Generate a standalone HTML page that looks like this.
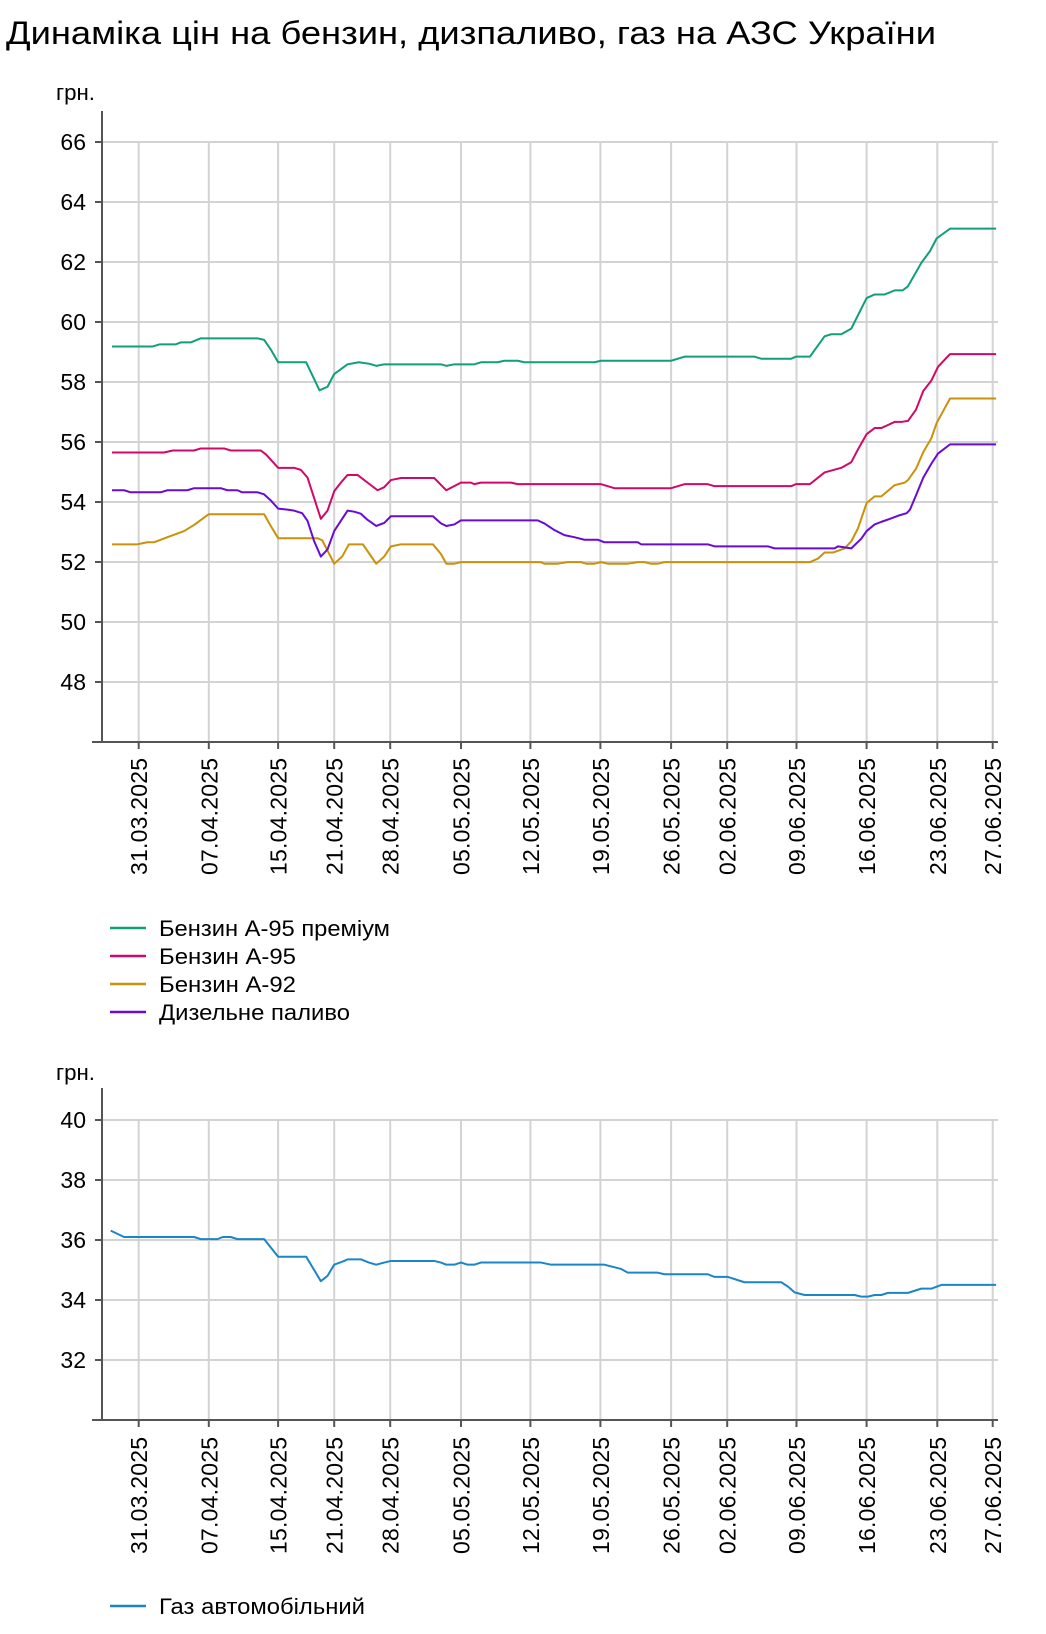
<!DOCTYPE html>
<html><head><meta charset="utf-8"><style>
html,body{margin:0;padding:0;background:#fff}
svg{display:block}
text{font-family:"Liberation Sans",Arial,sans-serif;fill:#000}
</style></head><body>
<svg width="1046" height="1634" viewBox="0 0 1046 1634" xmlns="http://www.w3.org/2000/svg">
<text x="6" y="44" font-size="32" textLength="930" lengthAdjust="spacingAndGlyphs">Динаміка цін на бензин, дизпаливо, газ на АЗС України</text>

<!-- TOP CHART -->
<text x="56" y="100" font-size="22" textLength="39" lengthAdjust="spacingAndGlyphs">грн.</text>
<g stroke="#d3d3d3" stroke-width="2">
<line x1="102" y1="142" x2="998" y2="142"/><line x1="102" y1="202" x2="998" y2="202"/><line x1="102" y1="262" x2="998" y2="262"/><line x1="102" y1="322" x2="998" y2="322"/><line x1="102" y1="382" x2="998" y2="382"/><line x1="102" y1="442" x2="998" y2="442"/><line x1="102" y1="502" x2="998" y2="502"/><line x1="102" y1="562" x2="998" y2="562"/><line x1="102" y1="622" x2="998" y2="622"/><line x1="102" y1="682" x2="998" y2="682"/>
<line x1="138.7" y1="142" x2="138.7" y2="742"/><line x1="208.8" y1="142" x2="208.8" y2="742"/><line x1="278.1" y1="142" x2="278.1" y2="742"/><line x1="334.2" y1="142" x2="334.2" y2="742"/><line x1="390.2" y1="142" x2="390.2" y2="742"/><line x1="461" y1="142" x2="461" y2="742"/><line x1="530.4" y1="142" x2="530.4" y2="742"/><line x1="600.4" y1="142" x2="600.4" y2="742"/><line x1="671.1" y1="142" x2="671.1" y2="742"/><line x1="727.2" y1="142" x2="727.2" y2="742"/><line x1="796.5" y1="142" x2="796.5" y2="742"/><line x1="866.6" y1="142" x2="866.6" y2="742"/><line x1="937.3" y1="142" x2="937.3" y2="742"/><line x1="992.7" y1="142" x2="992.7" y2="742"/>
</g>
<g stroke="#555" stroke-width="2">
<line x1="102" y1="111" x2="102" y2="743"/><line x1="92" y1="742" x2="998" y2="742"/>
<line x1="95" y1="142" x2="102" y2="142"/><line x1="95" y1="202" x2="102" y2="202"/><line x1="95" y1="262" x2="102" y2="262"/><line x1="95" y1="322" x2="102" y2="322"/><line x1="95" y1="382" x2="102" y2="382"/><line x1="95" y1="442" x2="102" y2="442"/><line x1="95" y1="502" x2="102" y2="502"/><line x1="95" y1="562" x2="102" y2="562"/><line x1="95" y1="622" x2="102" y2="622"/><line x1="95" y1="682" x2="102" y2="682"/>
<line x1="138.7" y1="742" x2="138.7" y2="749"/><line x1="208.8" y1="742" x2="208.8" y2="749"/><line x1="278.1" y1="742" x2="278.1" y2="749"/><line x1="334.2" y1="742" x2="334.2" y2="749"/><line x1="390.2" y1="742" x2="390.2" y2="749"/><line x1="461" y1="742" x2="461" y2="749"/><line x1="530.4" y1="742" x2="530.4" y2="749"/><line x1="600.4" y1="742" x2="600.4" y2="749"/><line x1="671.1" y1="742" x2="671.1" y2="749"/><line x1="727.2" y1="742" x2="727.2" y2="749"/><line x1="796.5" y1="742" x2="796.5" y2="749"/><line x1="866.6" y1="742" x2="866.6" y2="749"/><line x1="937.3" y1="742" x2="937.3" y2="749"/><line x1="992.7" y1="742" x2="992.7" y2="749"/>
</g>
<g font-size="23" text-anchor="end">
<text x="86" y="150">66</text><text x="86" y="210">64</text><text x="86" y="270">62</text><text x="86" y="330">60</text><text x="86" y="390">58</text><text x="86" y="450">56</text><text x="86" y="510">54</text><text x="86" y="570">52</text><text x="86" y="630">50</text><text x="86" y="690">48</text>
</g>
<g font-size="23" text-anchor="end">
<text transform="translate(147.2,758) rotate(-90)" textLength="117">31.03.2025</text>
<text transform="translate(217.3,758) rotate(-90)" textLength="117">07.04.2025</text>
<text transform="translate(286.6,758) rotate(-90)" textLength="117">15.04.2025</text>
<text transform="translate(342.7,758) rotate(-90)" textLength="117">21.04.2025</text>
<text transform="translate(398.7,758) rotate(-90)" textLength="117">28.04.2025</text>
<text transform="translate(469.5,758) rotate(-90)" textLength="117">05.05.2025</text>
<text transform="translate(538.9,758) rotate(-90)" textLength="117">12.05.2025</text>
<text transform="translate(608.9,758) rotate(-90)" textLength="117">19.05.2025</text>
<text transform="translate(679.6,758) rotate(-90)" textLength="117">26.05.2025</text>
<text transform="translate(735.7,758) rotate(-90)" textLength="117">02.06.2025</text>
<text transform="translate(805,758) rotate(-90)" textLength="117">09.06.2025</text>
<text transform="translate(875.1,758) rotate(-90)" textLength="117">16.06.2025</text>
<text transform="translate(945.8,758) rotate(-90)" textLength="117">23.06.2025</text>
<text transform="translate(1001.2,758) rotate(-90)" textLength="117">27.06.2025</text>
</g>
<g transform="matrix(0.6672 0 0 0.5099 0.59 0.76)" fill="none" stroke-width="2" stroke-linejoin="round">
<polyline vector-effect="non-scaling-stroke" stroke="#119e7b" points="167,678 228,678 238,674 262,674 270,670 285,670 300,662 385,662 395,665 405,684 416,709 458,709 478,764 490,757 500,732 520,713 537,709 553,712 563,716 575,713 660,713 668,716 680,713 710,713 720,709 745,709 755,706 775,706 785,709 890,709 900,706 1005,706 1025,698 1130,698 1140,702 1185,702 1192,698 1213,698 1235,658 1245,654 1260,654 1275,643 1298,583 1310,576 1325,576 1340,568 1352,568 1360,560 1380,514 1393,491 1403,466 1423,447 1492,447"/>
<polyline vector-effect="non-scaling-stroke" stroke="#d0086a" points="167,886 245,886 258,882 290,882 300,878 335,878 345,882 390,882 398,890 416,916 440,916 450,920 460,935 480,1016 490,1000 500,962 510,945 520,930 535,930 550,945 565,960 575,954 585,940 600,936 650,936 668,960 690,945 705,945 710,948 720,945 765,945 775,948 900,948 920,956 1005,956 1025,948 1060,948 1070,952 1185,952 1192,948 1213,948 1235,925 1260,916 1275,905 1285,880 1298,850 1310,838 1320,838 1340,826 1350,826 1360,824 1372,802 1383,765 1395,745 1405,718 1423,693 1492,693"/>
<polyline vector-effect="non-scaling-stroke" stroke="#c9920a" points="167,1066 205,1066 220,1062 230,1062 250,1052 275,1040 290,1028 312,1007 395,1007 405,1030 416,1054 475,1054 482,1058 500,1104 512,1090 522,1066 543,1066 553,1085 563,1104 575,1090 585,1070 600,1066 648,1066 660,1085 668,1104 680,1104 690,1101 810,1101 815,1104 835,1104 850,1101 870,1101 878,1104 890,1104 900,1101 910,1104 940,1104 955,1101 965,1101 975,1104 985,1104 995,1101 1213,1101 1225,1094 1235,1082 1248,1082 1265,1074 1275,1060 1285,1035 1298,985 1310,972 1320,972 1340,950 1355,945 1360,940 1372,918 1383,885 1395,858 1403,828 1423,780 1492,780"/>
<polyline vector-effect="non-scaling-stroke" stroke="#6a0ad6" points="167,960 185,960 195,964 240,964 250,960 280,960 290,956 330,956 340,960 355,960 362,964 385,964 395,968 405,980 416,996 430,998 440,1000 452,1005 460,1020 470,1060 480,1090 490,1076 500,1040 510,1020 520,1000 530,1002 540,1006 550,1018 563,1030 575,1024 585,1011 648,1011 660,1025 668,1030 680,1027 690,1019 805,1019 815,1025 830,1038 845,1048 860,1052 875,1057 895,1057 905,1062 955,1062 960,1066 1060,1066 1070,1070 1150,1070 1160,1074 1250,1074 1255,1070 1265,1072 1275,1074 1290,1055 1298,1040 1310,1027 1320,1022 1335,1015 1345,1010 1358,1005 1363,998 1372,970 1383,935 1395,908 1405,888 1423,870 1492,870"/>
</g>

<!-- top legend -->
<g stroke-width="2.5">
<line x1="110" y1="928" x2="146" y2="928" stroke="#119e7b"/>
<line x1="110" y1="956" x2="146" y2="956" stroke="#d0086a"/>
<line x1="110" y1="984" x2="146" y2="984" stroke="#c9920a"/>
<line x1="110" y1="1012" x2="146" y2="1012" stroke="#6a0ad6"/>
</g>
<g font-size="22">
<text x="159" y="936" textLength="231" lengthAdjust="spacingAndGlyphs">Бензин А-95 преміум</text>
<text x="159" y="964" textLength="137" lengthAdjust="spacingAndGlyphs">Бензин А-95</text>
<text x="159" y="992" textLength="137" lengthAdjust="spacingAndGlyphs">Бензин А-92</text>
<text x="159" y="1020" textLength="191" lengthAdjust="spacingAndGlyphs">Дизельне паливо</text>
</g>

<!-- BOTTOM CHART -->
<text x="56" y="1080" font-size="22" textLength="39" lengthAdjust="spacingAndGlyphs">грн.</text>
<g stroke="#d3d3d3" stroke-width="2">
<line x1="102" y1="1120" x2="998" y2="1120"/><line x1="102" y1="1180" x2="998" y2="1180"/><line x1="102" y1="1240" x2="998" y2="1240"/><line x1="102" y1="1300" x2="998" y2="1300"/><line x1="102" y1="1360" x2="998" y2="1360"/>
<line x1="138.7" y1="1120" x2="138.7" y2="1420"/><line x1="208.8" y1="1120" x2="208.8" y2="1420"/><line x1="278.1" y1="1120" x2="278.1" y2="1420"/><line x1="334.2" y1="1120" x2="334.2" y2="1420"/><line x1="390.2" y1="1120" x2="390.2" y2="1420"/><line x1="461" y1="1120" x2="461" y2="1420"/><line x1="530.4" y1="1120" x2="530.4" y2="1420"/><line x1="600.4" y1="1120" x2="600.4" y2="1420"/><line x1="671.1" y1="1120" x2="671.1" y2="1420"/><line x1="727.2" y1="1120" x2="727.2" y2="1420"/><line x1="796.5" y1="1120" x2="796.5" y2="1420"/><line x1="866.6" y1="1120" x2="866.6" y2="1420"/><line x1="937.3" y1="1120" x2="937.3" y2="1420"/><line x1="992.7" y1="1120" x2="992.7" y2="1420"/>
</g>
<g stroke="#555" stroke-width="2">
<line x1="102" y1="1088" x2="102" y2="1421"/><line x1="92" y1="1420" x2="998" y2="1420"/>
<line x1="95" y1="1120" x2="102" y2="1120"/><line x1="95" y1="1180" x2="102" y2="1180"/><line x1="95" y1="1240" x2="102" y2="1240"/><line x1="95" y1="1300" x2="102" y2="1300"/><line x1="95" y1="1360" x2="102" y2="1360"/>
<line x1="138.7" y1="1420" x2="138.7" y2="1427"/><line x1="208.8" y1="1420" x2="208.8" y2="1427"/><line x1="278.1" y1="1420" x2="278.1" y2="1427"/><line x1="334.2" y1="1420" x2="334.2" y2="1427"/><line x1="390.2" y1="1420" x2="390.2" y2="1427"/><line x1="461" y1="1420" x2="461" y2="1427"/><line x1="530.4" y1="1420" x2="530.4" y2="1427"/><line x1="600.4" y1="1420" x2="600.4" y2="1427"/><line x1="671.1" y1="1420" x2="671.1" y2="1427"/><line x1="727.2" y1="1420" x2="727.2" y2="1427"/><line x1="796.5" y1="1420" x2="796.5" y2="1427"/><line x1="866.6" y1="1420" x2="866.6" y2="1427"/><line x1="937.3" y1="1420" x2="937.3" y2="1427"/><line x1="992.7" y1="1420" x2="992.7" y2="1427"/>
</g>
<g font-size="23" text-anchor="end">
<text x="86" y="1128">40</text><text x="86" y="1188">38</text><text x="86" y="1248">36</text><text x="86" y="1308">34</text><text x="86" y="1368">32</text>
</g>
<g font-size="23" text-anchor="end">
<text transform="translate(147.2,1437) rotate(-90)" textLength="117">31.03.2025</text>
<text transform="translate(217.3,1437) rotate(-90)" textLength="117">07.04.2025</text>
<text transform="translate(286.6,1437) rotate(-90)" textLength="117">15.04.2025</text>
<text transform="translate(342.7,1437) rotate(-90)" textLength="117">21.04.2025</text>
<text transform="translate(398.7,1437) rotate(-90)" textLength="117">28.04.2025</text>
<text transform="translate(469.5,1437) rotate(-90)" textLength="117">05.05.2025</text>
<text transform="translate(538.9,1437) rotate(-90)" textLength="117">12.05.2025</text>
<text transform="translate(608.9,1437) rotate(-90)" textLength="117">19.05.2025</text>
<text transform="translate(679.6,1437) rotate(-90)" textLength="117">26.05.2025</text>
<text transform="translate(735.7,1437) rotate(-90)" textLength="117">02.06.2025</text>
<text transform="translate(805,1437) rotate(-90)" textLength="117">09.06.2025</text>
<text transform="translate(875.1,1437) rotate(-90)" textLength="117">16.06.2025</text>
<text transform="translate(945.8,1437) rotate(-90)" textLength="117">23.06.2025</text>
<text transform="translate(1001.2,1437) rotate(-90)" textLength="117">27.06.2025</text>
</g>
<g transform="matrix(0.6672 0 0 0.5322 0.59 800.6)" fill="none" stroke-width="2" stroke-linejoin="round">
<polyline vector-effect="non-scaling-stroke" stroke="#1a86c8" points="165,808 185,820 290,820 300,824 325,824 333,820 345,820 355,824 395,824 416,857 458,857 480,903 490,893 500,872 515,865 520,862 540,862 552,868 563,872 575,868 585,865 650,865 660,868 668,872 680,872 690,868 700,872 710,872 720,868 810,868 825,872 905,872 930,880 940,887 985,887 995,890 1060,890 1070,895 1090,895 1115,905 1170,905 1180,913 1190,924 1205,929 1280,929 1290,932 1300,932 1310,929 1320,929 1330,925 1360,925 1380,917 1395,917 1410,910 1492,910"/>
</g>
<line x1="110" y1="1606" x2="146" y2="1606" stroke="#1a86c8" stroke-width="2.5"/>
<text x="159" y="1614" font-size="22" textLength="206" lengthAdjust="spacingAndGlyphs">Газ автомобільний</text>
</svg>
</body></html>
